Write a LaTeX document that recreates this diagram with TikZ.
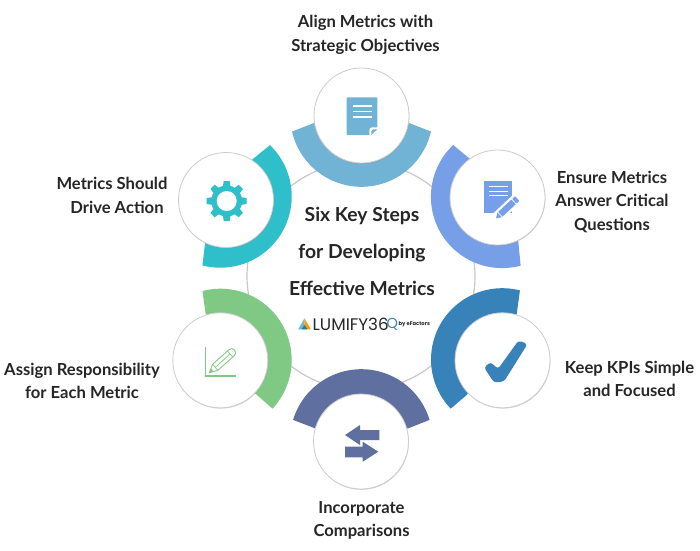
\documentclass[tikz,border=0pt]{standalone}
\usepackage{fontspec}
\setmainfont{Lato}
\newfontfamily\logofont{Poppins}
\usetikzlibrary{shadows}
\definecolor{bandsky}{HTML}{70B3D4}
\definecolor{bandperi}{HTML}{769FE8}
\definecolor{bandblue}{HTML}{3782B8}
\definecolor{bandslate}{HTML}{5F70A0}
\definecolor{bandgreen}{HTML}{80C985}
\definecolor{bandteal}{HTML}{2EBFCA}
\definecolor{labelink}{HTML}{262626}
\tikzset{
	stepcircle/.style={circle,draw=black!20,line width=0.8pt,fill=white,minimum size=95pt,inner sep=0pt,
		drop shadow={shadow xshift=0.4pt,shadow yshift=-0.8pt,opacity=0.35}},
	steplabel/.style={align=center,text=labelink,font=\fontsize{16.6}{23.5}\selectfont\bfseries},
	titlelabel/.style={align=center,text=labelink,font=\fontsize{19.3}{37}\selectfont\bfseries},
}
\begin{document}
\begin{tikzpicture}[x=1pt,y=1pt]
	\useasboundingbox (0,0) rectangle (700,-550);
	\fill[white] (0,0) rectangle (700,-550);
	
	% grey ring
	\draw[black!22,line width=1.2pt] (361,-276) circle (114);
	
	% bands
	\foreach \cx/\cy/\from/\to/\ix/\iy/\jx/\jy/\col in
	{361.5/-115.5/193/347/409/-123/314/-123/bandsky,
	 502.2/-196.8/133.4/285/518.3/-241.7/470/-159/bandperi,
	 502.3/-359.5/75.7/223.6/466.7/-395/516.7/-314/bandblue,
	 361.3/-440.5/16.8/163.2/315/-428.3/408.3/-428.3/bandslate,
	 220.4/-360/104.6/-43/255/-393.3/205.7/-314/bandgreen,
	 220.4/-196.4/46/-104.6/205/-244/251.7/-160/bandteal}{
		\fill[\col] (\cx,\cy) ++(\from:71.3) arc[start angle=\from,end angle=\to,radius=71.3] -- (\ix,\iy) -- (\jx,\jy) -- cycle;
	}
	
	% white circles
	\foreach \x/\y/\name in
	{361.5/-115.5/align, 497.5/-197.5/ensure, 502.5/-360.3/keep, 361/-441.5/compare, 220.3/-360.3/assign, 226/-200/drive}{
		\node[stepcircle] (\name) at (\x,\y) {};
	}
	
	% labels
	\node[steplabel] (alignlabel) at (365.5,-35) {Align Metrics with\\Strategic Objectives};
	\node[steplabel] (ensurelabel) at (612,-202) {Ensure Metrics\\Answer Critical\\Questions};
	\node[steplabel] (keeplabel) at (629.5,-379) {Keep KPIs Simple\\and Focused};
	\node[steplabel] (comparelabel) at (361.5,-520.5) {Incorporate\\Comparisons};
	\node[steplabel] (assignlabel) at (82,-381) {Assign Responsibility\\for Each Metric};
	\node[steplabel] (drivelabel) at (112,-195.5) {Metrics Should\\\hspace{10pt}Drive Action};
	\node[titlelabel] (title) at (362,-251) {Six Key Steps\\for Developing\\Effective Metrics};
	
	% logo
	\fill[bandsky] (304.5,-318.3) -- (298.3,-329.3) -- (304.5,-329.3) -- cycle;
	\fill[orange!80!yellow] (304.5,-318.3) -- (310.7,-329.3) -- (304.5,-329.3) -- cycle;
	\fill[bandteal!70!black] (301.5,-329.3) -- (304.5,-325) -- (307.5,-329.3) -- cycle;
	\node[anchor=west,inner sep=0pt,text=black!85] (logotext) at (312.5,-324) {\logofont\fontsize{16.8}{17}\selectfont LUMIFY36};
	\node[anchor=west,inner sep=0pt,text=bandblue] (logoq) at (386.5,-324) {\logofont\fontsize{14.5}{15}\selectfont Q};
	\node[anchor=west,inner sep=0pt,text=black!85] (logoby) at (398.5,-324.5) {\logofont\bfseries\fontsize{5.2}{6}\selectfont by eFactors};
	
	% document (top)
	\fill[bandsky,rounded corners=0.8pt] (346.7,-97.3) rectangle (377.3,-135);
	\foreach \y in {-106,-111.3,-117}{
		\draw[white,line width=1.1pt] (352.7,\y) -- (371.7,\y);
	}
	\fill[white] (369.3,-135.5) -- (369.3,-130) to[out=90,in=180] (372.5,-127.3) -- (377.8,-127.3) -- (377.8,-135.5) -- cycle;
	\fill[bandsky] (371.3,-135) -- (371.3,-131) to[out=90,in=180] (373,-129.3) -- (377.3,-129.3) -- cycle;
	
	% document and pen (right)
	\fill[bandperi] (484.3,-180.7) rectangle (512.3,-213.3);
	\foreach \y in {-186.7,-191.2,-195.7}{
		\draw[white,line width=1.4pt] (489,\y) -- (508.3,\y);
	}
	\begin{scope}[shift={(496,-218.3)},rotate=43]
		\fill[white,rounded corners=1pt] (-1,-5.5) rectangle (31,5.5);
		\fill[bandperi] (0,0) -- (5,-3.2) -- (5,3.2) -- cycle;
		\fill[bandperi] (6,-3.2) rectangle (24,3.2);
		\fill[bandperi,rounded corners=0.8pt] (25,-3.2) rectangle (29,3.2);
	\end{scope}
	
	% check mark
	\fill[bandblue,rounded corners=3pt] (484,-367.5) -- (490.5,-362) -- (498,-369) -- (518.5,-340.5) -- (527.5,-344) -- (504,-381.5) -- (494,-382.5) -- cycle;
	
	% arrows
	\fill[bandslate] (345,-435) -- (360,-425) -- (360,-430) -- (379.3,-430) -- (379.3,-440) -- (360,-440) -- (360,-445) -- cycle;
	\fill[bandslate] (378.3,-451.7) -- (362.7,-441.7) -- (362.7,-446.7) -- (345,-446.7) -- (345,-457.3) -- (362.7,-457.3) -- (362.7,-461.7) -- cycle;
	
	% pencil and axes
	\draw[bandgreen,line width=1.4pt] (205.7,-346.7) -- (205.7,-376) -- (236,-376);
	\begin{scope}[shift={(209.3,-372.7)},rotate=42]
		\draw[bandgreen,line width=0.9pt,line join=round] (0,0) -- (8,-4) -- (30,-4) arc[start angle=-90,end angle=90,radius=4] -- (8,4) -- cycle;
		\draw[bandgreen,line width=0.7pt] (8,-4) -- (8,4) (28,-4) -- (28,4) (8,0) -- (28,0);
		\fill[bandgreen] (0,0) -- (4,-2) -- (4,2) -- cycle;
	\end{scope}
	
	% gear
	\begin{scope}[shift={(226.7,-201)}]
		\fill[bandteal] circle (15.5);
		\foreach \a in {0,45,...,315}{
			\fill[bandteal,rotate=\a] (-4,13) -- (-3,20) -- (3,20) -- (4,13) -- cycle;
		}
		\fill[white] circle (10);
	\end{scope}
\end{tikzpicture}
\end{document}
